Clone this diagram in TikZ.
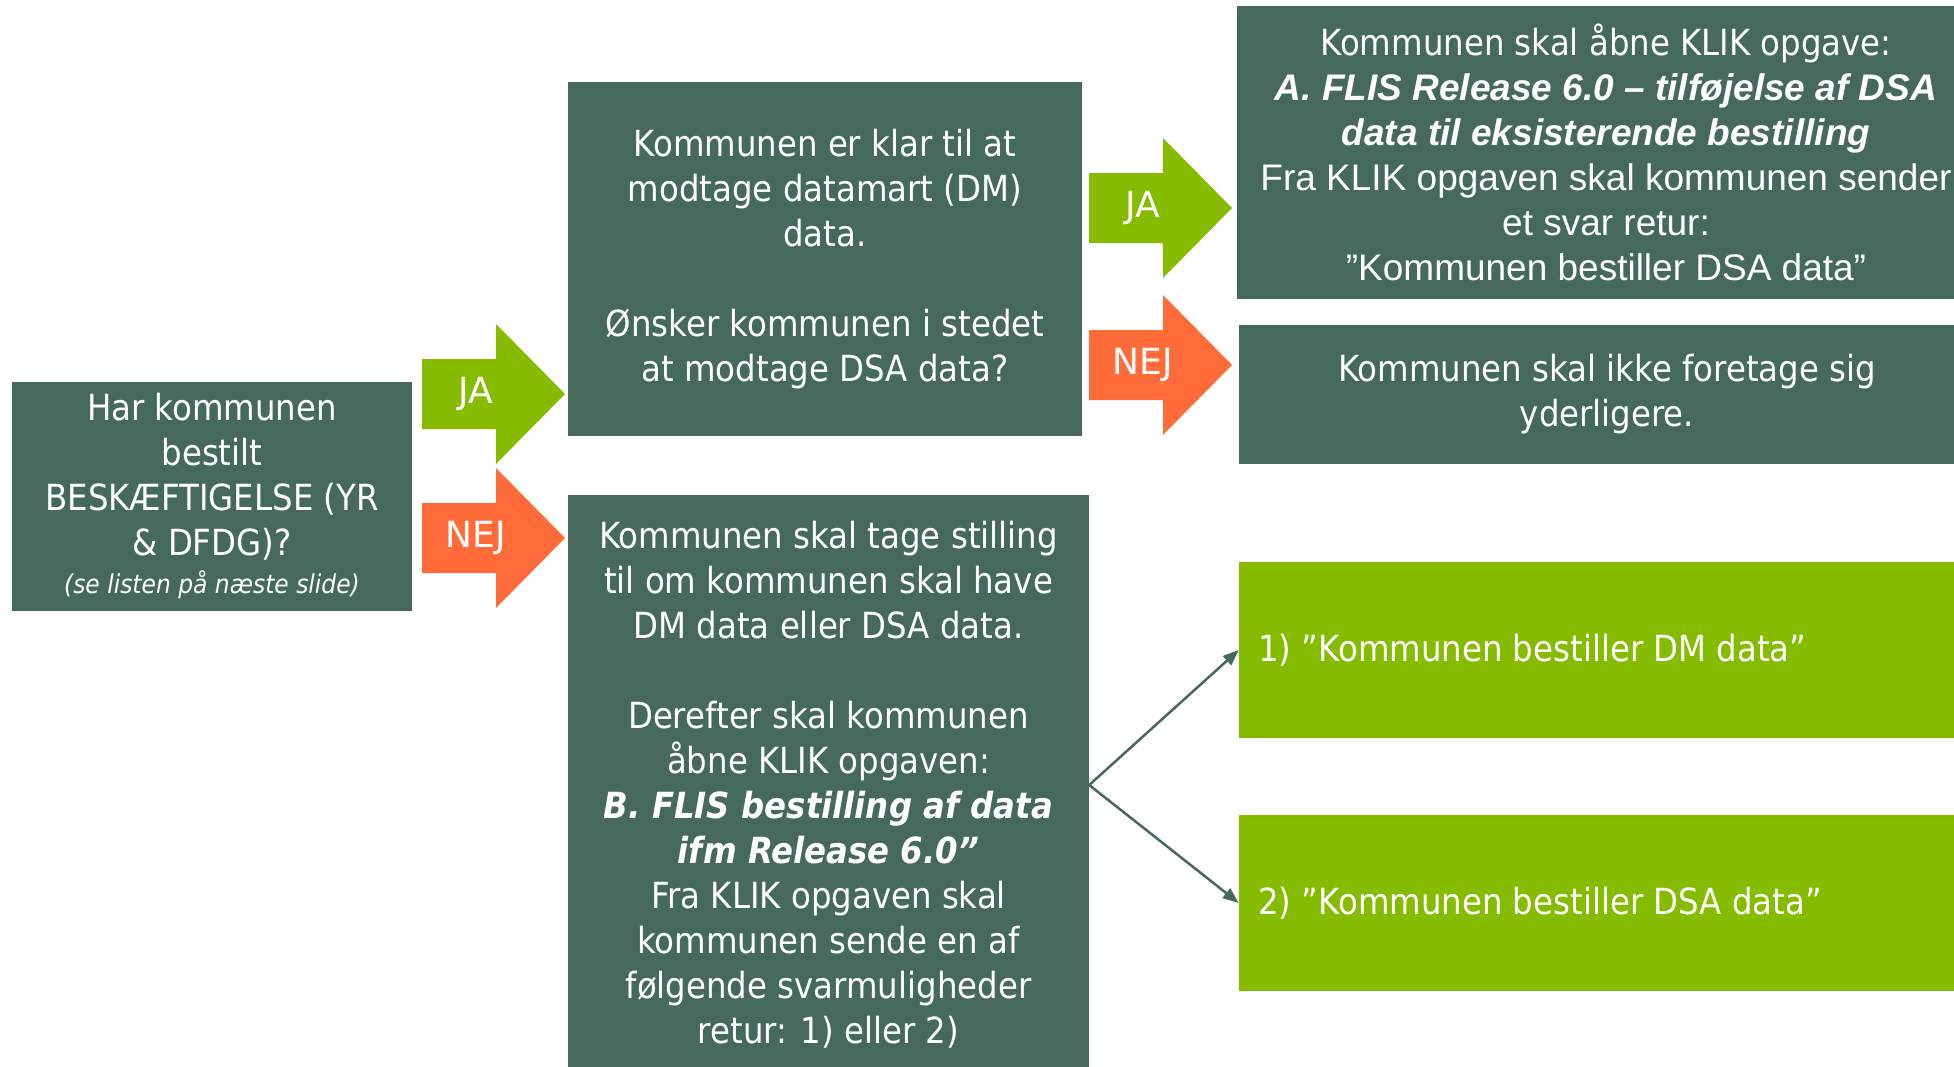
\documentclass[tikz,border=0pt]{standalone}
\usepackage{fontspec}
\setmainfont{DejaVu Sans}
\newfontfamily\tah[FakeStretch=0.9]{DejaVu Sans}
\newfontfamily\tahlbl{DejaVu Sans}
\newfontfamily\ari{Liberation Sans}
\usetikzlibrary{arrows.meta}
\definecolor{dkgreen}{HTML}{456A5B}
\definecolor{limegr}{HTML}{86BC00}
\definecolor{orng}{HTML}{FF6C3A}
\tikzset{
  box/.style={fill=dkgreen, inner sep=0pt, text=white, align=center,
    font=\tah\fontsize{36}{45}\selectfont},
  gbox/.style={fill=limegr, inner sep=0pt},
  lbl/.style={text=white, inner sep=0pt, font=\tahlbl\fontsize{36}{43}\selectfont},
  txt/.style={text=white, align=left, inner sep=0pt, font=\tah\fontsize{36}{45}\selectfont},
  conn/.style={draw=dkgreen, line width=2.5pt, -{Triangle[length=16pt,width=12pt]}},
}
\newcommand\arbi{\ari\fontsize{37}{45}\selectfont\bfseries\itshape}
\newcommand\arr{\ari\fontsize{37}{45}\selectfont}
\begin{document}
\begin{tikzpicture}[x=1pt,y=-1pt]
\useasboundingbox (0,0) rectangle (1954,1066);
\fill[white] (0,0) rectangle (1954,1066);

% boxes
\node[box, minimum width=400pt, minimum height=229pt] (b1) at (212,496.5)
  {Har kommunen\\bestilt\\BESKÆFTIGELSE (YR\\\& DFDG)?\\[-7pt]{\fontsize{26}{30}\selectfont\itshape (se listen på næste slide)}};
\node[box, minimum width=514pt, minimum height=354pt] (b2) at (825,259)
  {Kommunen er klar til at\\modtage datamart (DM)\\data.\\[45pt]Ønsker kommunen i stedet\\at modtage DSA data?};
\node[box, minimum width=521pt, minimum height=580pt] (b3) at (828.5,785)
  {Kommunen skal tage stilling\\til om kommunen skal have\\DM data eller DSA data.\\[45pt]Derefter skal kommunen\\åbne KLIK opgaven:\\{\bfseries\itshape B. FLIS bestilling af data}\\{\bfseries\itshape ifm Release 6.0”}\\Fra KLIK opgaven skal\\kommunen sende en af\\følgende svarmuligheder\\retur: 1) eller 2)};
\node[box, minimum width=738pt, minimum height=293pt] (b4) at (1606,152.5)
  {Kommunen skal åbne KLIK opgave:\\{\arbi A. FLIS Release 6.0 – tilføjelse af DSA}\\{\arbi data til eksisterende bestilling}\\{\arr Fra KLIK opgaven skal kommunen sender}\\{\arr et svar retur:}\\{\arr ”Kommunen bestiller DSA data”}};
\node[box, minimum width=736pt, minimum height=139pt] (b5) at (1607,394.5)
  {Kommunen skal ikke foretage sig\\yderligere.};
\node[gbox, minimum width=736pt, minimum height=176pt] (b6) at (1607,650) {};
\node[gbox, minimum width=736pt, minimum height=176pt] (b7) at (1607,903) {};
\node[txt, anchor=west] (t6) at (1258,650) {1) ”Kommunen bestiller DM data”};
\node[txt, anchor=west] (t7) at (1258,903) {2) ”Kommunen bestiller DSA data”};

% block arrows
\foreach \x/\y/\c/\t/\n in {422/394/limegr/JA/a1, 422/538/orng/NEJ/a2, 1089/208/limegr/JA/a3, 1089/365/orng/NEJ/a4}{
  \fill[\c] (\x,\y-35) -- (\x+74,\y-35) -- (\x+74,\y-70) -- (\x+143,\y) -- (\x+74,\y+70) -- (\x+74,\y+35) -- (\x,\y+35) -- cycle;
  \node[lbl] (\n) at (\x+54,\y) {\t};
}

% connectors
\draw[conn] (b3.east) -- (b6.west);
\draw[conn] (b3.east) -- (b7.west);
\end{tikzpicture}
\end{document}
